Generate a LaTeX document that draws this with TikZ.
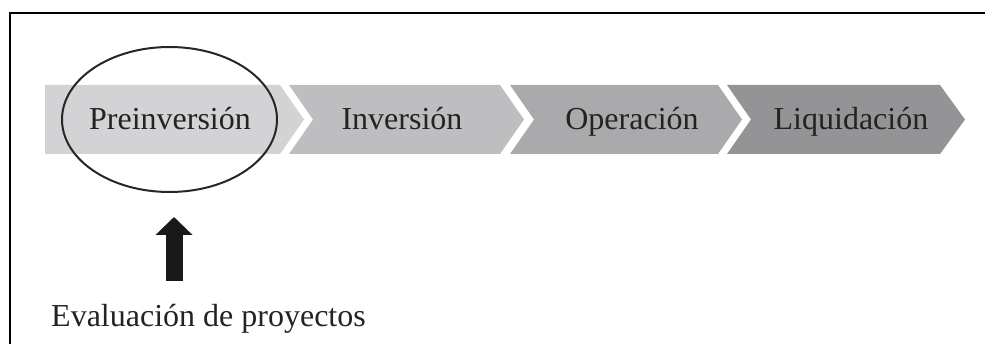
\documentclass[tikz,border=0pt]{standalone}
\usepackage{fontspec}
\setmainfont{Liberation Serif}
\usetikzlibrary{arrows.meta}
\definecolor{stageA}{RGB}{211,211,213}
\definecolor{stageB}{RGB}{190,190,192}
\definecolor{stageC}{RGB}{170,170,172}
\definecolor{stageD}{RGB}{148,148,150}
\definecolor{ink}{RGB}{35,35,35}
\tikzset{
  label text/.style={font=\fontsize{32}{36}\selectfont, text=ink, anchor=base, inner sep=0pt},
  bigarrow/.style={line width=17pt, draw=black!90, -{Triangle[width=36pt,length=18pt]}},
  frame line/.style={line width=2.5pt, draw=black},
}
\begin{document}
\begin{tikzpicture}[x=1pt,y=-1pt]
\useasboundingbox (0,0) rectangle (985,344);
% open frame: left and top sides
\draw[frame line] (10,346) -- (10,13) -- (987,13);

% process stages as chevrons
\fill[stageA] (45,85) -- (280,85) -- (304,119.5) -- (280,154) -- (45,154) -- cycle;
\fill[stageB] (289,85) -- (500,85) -- (524,119.5) -- (500,154) -- (289,154) -- (313,119.5) -- cycle;
\fill[stageC] (510,85) -- (718,85) -- (742,119.5) -- (718,154) -- (510,154) -- (534,119.5) -- cycle;
\fill[stageD] (727,85) -- (940,85) -- (965,119.5) -- (940,154) -- (727,154) -- (751,119.5) -- cycle;

\node[label text] (t1) at (170,130) {Preinversión};
\node[label text] (t2) at (402,130) {Inversión};
\node[label text] (t3) at (632,130) {Operación};
\node[label text] (t4) at (851,130) {Liquidación};

% highlight of the first stage
\draw[line width=2pt, black!85] (169.5,119.5) ellipse [x radius=107.5, y radius=72.5];

% evaluation label and arrow
\node[label text] (eval) at (208.5,327) {Evaluación de proyectos};
\coordinate (tip) at (174,217);
\draw[bigarrow, shorten <=24pt] (eval.north -| tip) -- (tip);
\end{tikzpicture}
\end{document}
